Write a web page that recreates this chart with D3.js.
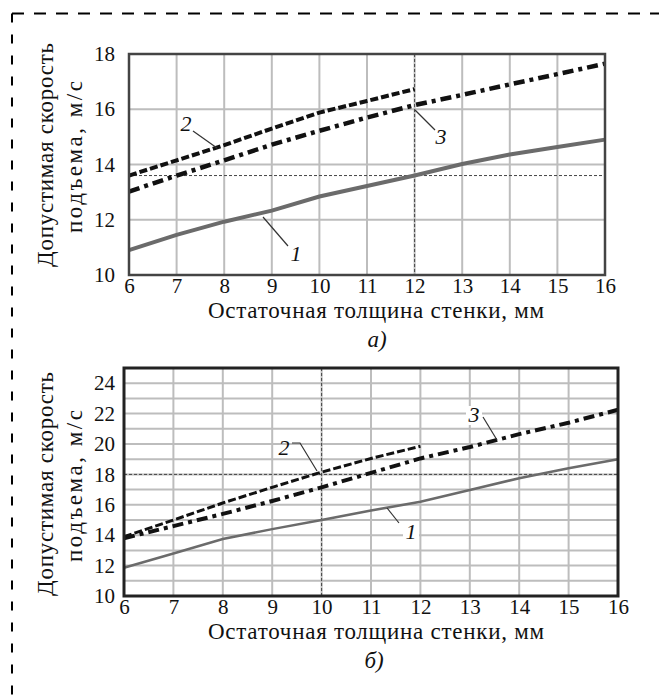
<!DOCTYPE html>
<html>
<head>
<meta charset="utf-8">
<script src="https://cdn.jsdelivr.net/npm/d3@7"></script>
<style>
  body { margin: 0; background: #fff; }
  svg text { font-family: "Liberation Serif", "DejaVu Serif", serif; fill: #111; }
</style>
</head>
<body>
<div id="chart"></div>
<script>
// residual wall thickness, mm
const thickness = [6, 7, 8, 9, 10, 11, 12, 13, 14, 15, 16];
const thicknessShort = [6, 7, 8, 9, 10, 11, 12];

// panel a) allowable hoisting speed, m/s
const speedA1 = [10.9, 11.45, 11.93, 12.33, 12.84, 13.22, 13.6, 14.02, 14.36, 14.63, 14.9];
const speedA2 = [13.6, 14.15, 14.7, 15.3, 15.88, 16.3, 16.73];
const speedA3 = [13.02, 13.6, 14.15, 14.72, 15.22, 15.7, 16.15, 16.52, 16.9, 17.27, 17.65];

// panel б)
const speedB1 = [11.86, 12.8, 13.75, 14.4, 15.0, 15.62, 16.2, 16.97, 17.75, 18.4, 19.0];
const speedB2 = [13.9, 15.0, 16.12, 17.15, 18.15, 19.05, 19.85];
const speedB3 = [13.8, 14.6, 15.4, 16.25, 17.15, 18.1, 19.05, 19.8, 20.65, 21.4, 22.25];

const ticksX = [6, 7, 8, 9, 10, 11, 12, 13, 14, 15, 16];
const ticksYA = [10, 12, 14, 16, 18];
const ticksYB = [10, 12, 14, 16, 18, 20, 22, 24];

const xTitle = 'Остаточная толщина стенки, мм';
const yTitle = ['Допустимая скорость', 'подъема, м/с'];

const W = 659, H = 697;

const svg = d3.select('#chart').append('svg')
    .attr('width', W)
    .attr('height', H);

// dashed frame around the figure (only top and left visible)
svg.append('line')
    .attr('x1', 12).attr('y1', 13.5).attr('x2', W).attr('y2', 13.5)
    .attr('stroke', '#000').attr('stroke-width', 2)
    .attr('stroke-dasharray', '12,10');
svg.append('line')
    .attr('x1', 12).attr('y1', 13.5).attr('x2', 12).attr('y2', H)
    .attr('stroke', '#000').attr('stroke-width', 2)
    .attr('stroke-dasharray', '9,12');

function drawPanel(cfg){
    let g = svg.append('g');

    let x = d3.scaleLinear().domain([6, 16]).range([cfg.left, cfg.right]);
    let y = d3.scaleLinear().domain(cfg.yDomain).range([cfg.bottom, cfg.top]);

    // grid
    g.append('g').selectAll('line.gx')
        .data(ticksX.slice(1, -1))
        .enter().append('line')
        .attr('x1', d => x(d)).attr('x2', d => x(d))
        .attr('y1', cfg.top).attr('y2', cfg.bottom)
        .attr('stroke', '#bdbdbd').attr('stroke-width', 2);

    g.append('g').selectAll('line.gy')
        .data(cfg.gridY)
        .enter().append('line')
        .attr('x1', cfg.left).attr('x2', cfg.right)
        .attr('y1', d => y(d)).attr('y2', d => y(d))
        .attr('stroke', '#bdbdbd').attr('stroke-width', 2);

    // reference lines
    g.append('line')
        .attr('x1', cfg.left).attr('x2', cfg.right)
        .attr('y1', y(cfg.refY)).attr('y2', y(cfg.refY))
        .attr('stroke', '#444').attr('stroke-width', 1)
        .attr('stroke-dasharray', '3,2');
    g.append('line')
        .attr('x1', x(cfg.refX)).attr('x2', x(cfg.refX))
        .attr('y1', cfg.top).attr('y2', cfg.bottom)
        .attr('stroke', '#444').attr('stroke-width', 1)
        .attr('stroke-dasharray', '3,2');

    let line = d3.line()
        .x(d => x(d[0]))
        .y(d => y(d[1]));

    g.append('path')
        .attr('d', line(d3.zip(thickness, cfg.s1)))
        .attr('fill', 'none')
        .attr('stroke', '#6b6b6b')
        .attr('stroke-width', cfg.w1);

    g.append('path')
        .attr('d', line(d3.zip(thickness, cfg.s3)))
        .attr('fill', 'none')
        .attr('stroke', '#111')
        .attr('stroke-width', cfg.w3)
        .attr('stroke-dasharray', '11,5,4,5');

    g.append('path')
        .attr('d', line(d3.zip(thicknessShort, cfg.s2)))
        .attr('fill', 'none')
        .attr('stroke', '#111')
        .attr('stroke-width', cfg.w2)
        .attr('stroke-dasharray', '8,3');

    // frame
    g.append('rect')
        .attr('x', cfg.left).attr('y', cfg.top)
        .attr('width', cfg.right - cfg.left)
        .attr('height', cfg.bottom - cfg.top)
        .attr('fill', 'none')
        .attr('stroke', cfg.frameColor)
        .attr('stroke-width', cfg.frameWidth);

    // axes
    let ax = g.append('g')
        .attr('transform', 'translate(0,' + cfg.bottom + ')')
        .call(d3.axisBottom(x).tickValues(ticksX).tickSize(0).tickPadding(3));
    ax.select('.domain').remove();
    ax.selectAll('text')
        .attr('font-size', 21)
        .attr('fill', '#111');

    let ay = g.append('g')
        .attr('transform', 'translate(' + cfg.left + ',0)')
        .call(d3.axisLeft(y).tickValues(cfg.ticksY).tickSize(0).tickPadding(cfg.yPad));
    ay.select('.domain').remove();
    ay.selectAll('text')
        .attr('font-size', 21)
        .attr('fill', '#111');

    // axis titles
    g.append('text')
        .attr('x', cfg.titleX)
        .attr('y', cfg.bottom + 43)
        .attr('text-anchor', 'middle')
        .attr('font-size', 23)
        .attr('textLength', 336)
        .attr('lengthAdjust', 'spacing')
        .text(xTitle);

    g.append('text')
        .attr('x', cfg.tagX)
        .attr('y', cfg.bottom + 72)
        .attr('text-anchor', 'middle')
        .attr('font-size', 23)
        .attr('font-style', 'italic')
        .text(cfg.tag);

    let yt = g.append('text')
        .attr('transform', 'translate(53,' + cfg.yTitleMid + ') rotate(-90)')
        .attr('text-anchor', 'middle')
        .attr('font-size', 23);
    yt.append('tspan').attr('x', 0).attr('dy', 0)
        .attr('textLength', 224).attr('lengthAdjust', 'spacing')
        .text(yTitle[0]);
    yt.append('tspan').attr('x', -2).attr('dy', 29)
        .attr('textLength', 152).attr('lengthAdjust', 'spacing')
        .text(yTitle[1]);

    // curve labels with leaders
    cfg.labels.forEach(l => {
        g.append('polyline')
            .attr('points', l.leader.map(p => p.join(',')).join(' '))
            .attr('fill', 'none')
            .attr('stroke', '#333')
            .attr('stroke-width', 1.2);
        if(l.box){
            g.append('rect')
                .attr('x', l.x - 8).attr('y', l.y - 16)
                .attr('width', 16).attr('height', 19)
                .attr('fill', '#fff');
        }
        g.append('text')
            .attr('x', l.x).attr('y', l.y)
            .attr('text-anchor', 'middle')
            .attr('font-size', 22)
            .attr('font-style', 'italic')
            .text(l.text);
    });
}

drawPanel({
    left: 129, right: 605, top: 54, bottom: 275,
    yDomain: [10, 18],
    ticksY: ticksYA,
    gridY: [12, 14, 16],
    yPad: 14,
    refY: 13.6, refX: 12,
    s1: speedA1, s2: speedA2, s3: speedA3,
    w1: 4, w2: 4, w3: 4.5,
    frameColor: '#444', frameWidth: 2.5,
    titleX: 376, tagX: 377,
    tag: 'а)',
    yTitleMid: 155,
    labels: [
        {text: '2', x: 186, y: 131, leader: [[193, 131], [217, 148]]},
        {text: '3', x: 441, y: 144, leader: [[415, 110], [435, 130]]},
        {text: '1', x: 296, y: 261, leader: [[263, 217], [288, 246]]}
    ]
});

drawPanel({
    left: 124, right: 618, top: 368, bottom: 596,
    yDomain: [10, 25],
    ticksY: ticksYB,
    gridY: d3.range(11, 25),
    yPad: 9,
    refY: 18, refX: 10,
    s1: speedB1, s2: speedB2, s3: speedB3,
    w1: 2.5, w2: 3, w3: 4,
    frameColor: '#222', frameWidth: 3,
    titleX: 376, tagX: 374,
    tag: 'б)',
    yTitleMid: 484,
    labels: [
        {text: '2', x: 284, y: 455, leader: [[292, 443], [300, 443], [317, 471]]},
        {text: '3', x: 474, y: 422, box: true, leader: [[483, 417], [497, 440]]},
        {text: '1', x: 411, y: 539, box: true, leader: [[387, 508], [399, 523]]}
    ]
});
</script>
</body>
</html>
